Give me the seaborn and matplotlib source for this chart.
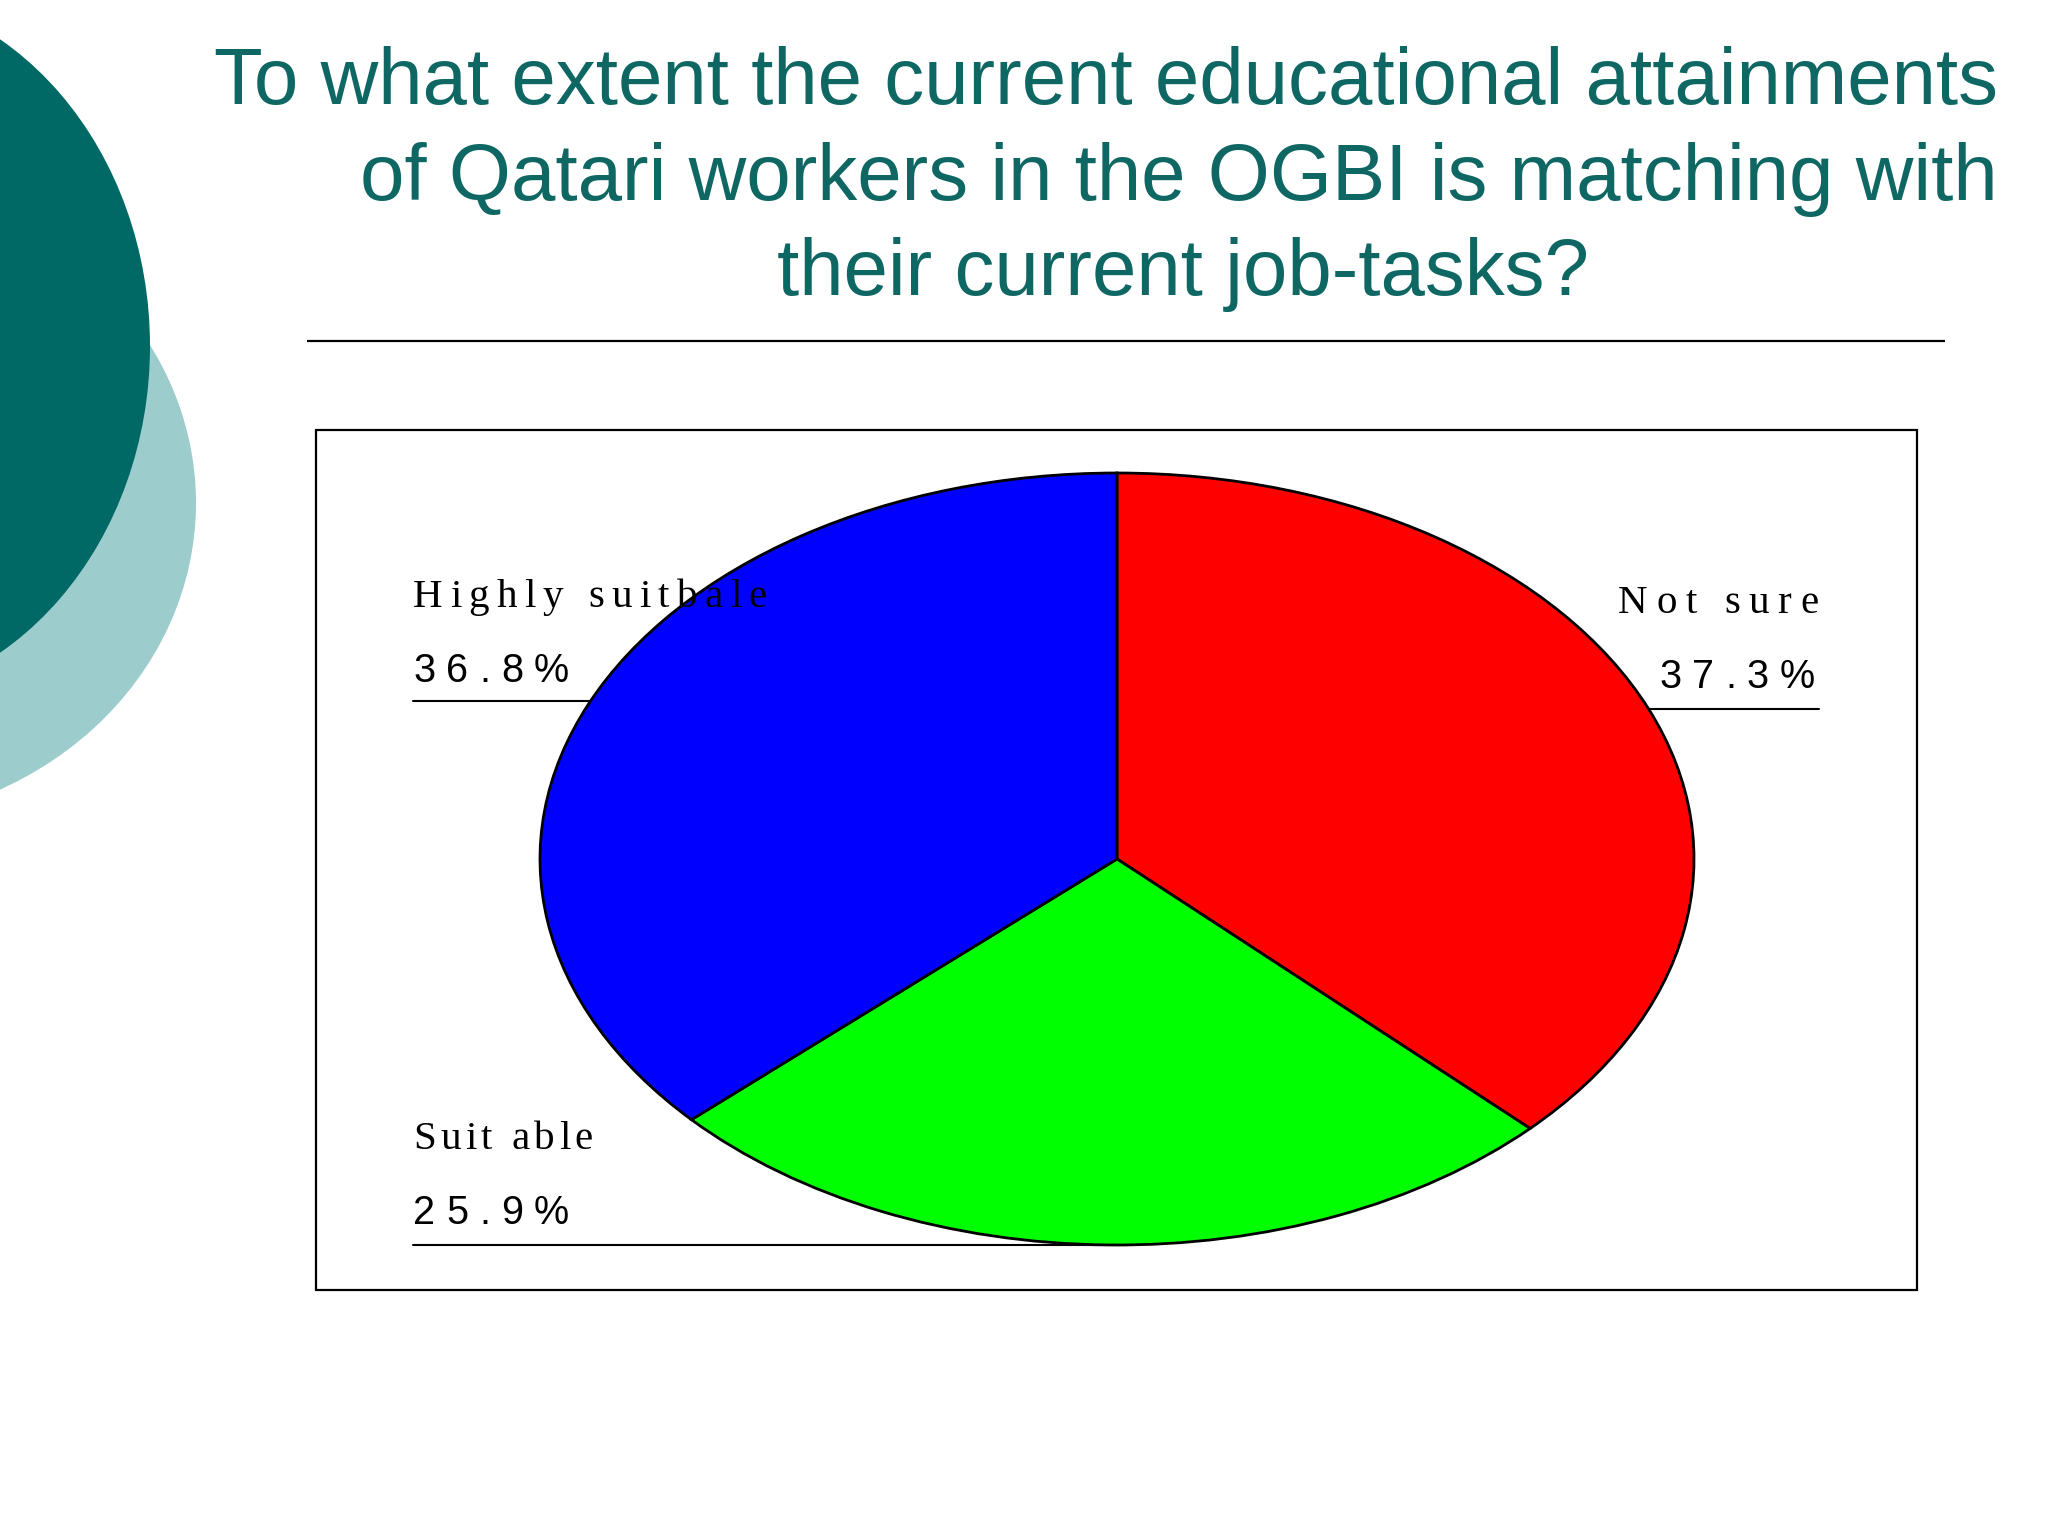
import numpy as np
import pandas as pd
import matplotlib
matplotlib.use("Agg")
import matplotlib.pyplot as plt
import seaborn as sns
from matplotlib.patches import Ellipse, Rectangle
from matplotlib.font_manager import FontProperties

# ---- data ----
categories = ["Not sure", "Suitable", "Highly suitbale"]
shares = [37.3, 25.9, 36.8]
label_texts = ["Not sure", "Suit able", "Highly suitbale"]
pct_texts = ["37.3%", "25.9%", "36.8%"]
slice_colors = ["#ff0000", "#00ff00", "#0000ff"]
title_lines = [
    "To what extent the current educational attainments",
    "of Qatari workers in the OGBI is matching with",
    "their current job-tasks?",
]

sns.set_theme(style="white")
plt.rcParams["font.family"] = ["Liberation Sans", "DejaVu Sans"]

W, H = 2048, 1536
fig = plt.figure(figsize=(W / 100, H / 100), dpi=100, facecolor="white")

# background / decoration axes in pixel coordinates
bg = fig.add_axes([0, 0, 1, 1], zorder=-1)
bg.set_xlim(0, W)
bg.set_ylim(H, 0)
bg.axis("off")

bg.add_patch(Ellipse((-157, 503), 2 * 353, 2 * 320, color="#9dcccd", lw=0))
bg.add_patch(Ellipse((-157, 346), 2 * 307, 2 * 357, color="#006865", lw=0))
bg.plot([307, 1945], [341, 341], color="black", lw=1.6, solid_capstyle="butt")
bg.add_patch(Rectangle((316, 430), 1601, 860, fill=False, ec="black", lw=1.6))

# label underlines (drawn beneath the pie)
bg.plot([413, 820], [701, 701], color="black", lw=1.5)
bg.plot([1500, 1819], [709, 709], color="black", lw=1.5)
bg.plot([413, 1100], [1245, 1245], color="black", lw=1.5)

# ---- pie ----
rx, ry = 577, 386
cx, cy = 1117, 859
m = 1.1
ax = fig.add_axes([(cx - m * rx) / W, (H - cy - m * ry) / H,
                   2 * m * rx / W, 2 * m * ry / H], zorder=1)
df = pd.DataFrame({"category": categories, "share": shares})
ax.pie(df["share"], colors=slice_colors, startangle=90, counterclock=False,
       wedgeprops=dict(edgecolor="black", linewidth=2.0))
ax.set_aspect("auto")
ax.set_xlim(-m, m)
ax.set_ylim(-m, m)
ax.axis("off")
ax.patch.set_visible(False)

# ---- title ----
tcol = "#0f6763"
tfs = 57.5
fig.text(1998, 104, title_lines[0], transform=bg.transData, ha="right",
         va="baseline", color=tcol, fontsize=tfs, family="Liberation Sans",
         zorder=4)
fig.text(1998, 200, title_lines[1], transform=bg.transData, ha="right",
         va="baseline", color=tcol, fontsize=tfs, family="Liberation Sans",
         zorder=4)
fig.text(1183, 295, title_lines[2], transform=bg.transData, ha="center",
         va="baseline", color=tcol, fontsize=tfs, family="Liberation Sans",
         zorder=4)

# ---- letter-spaced labels (real text, placed glyph by glyph) ----
renderer = fig.canvas.get_renderer()


def measure(s, fp):
    w, h, d = renderer.get_text_width_height_descent(s, fp, ismath=False)
    return w


def tracked(s, x0, yb, target, family, size):
    fp = FontProperties(family=family, size=size)
    w0 = measure(s, fp)
    ref = measure("x", fp)
    n = len(s) - 1
    t = (target - w0) / n if n > 0 else 0
    for i, ch in enumerate(s):
        if ch == " ":
            continue
        adv = measure(s[:i] + "x", fp) - ref if i > 0 else 0
        fig.text(x0 + adv + i * t, yb, ch, fontproperties=fp,
                 transform=bg.transData, ha="left", va="baseline",
                 color="black", zorder=5)


serif = "Liberation Serif"
sans = "Liberation Sans"
lfs, pfs = 29.5, 28.5
# Not sure
tracked(label_texts[0], 1618, 613, 200, serif, lfs)
tracked(pct_texts[0], 1659, 688, 156, sans, pfs)
# Suitable
tracked(label_texts[1], 413, 1149, 180, serif, lfs)
tracked(pct_texts[1], 413, 1224, 156, sans, pfs)
# Highly suitbale
tracked(label_texts[2], 413, 607, 354, serif, lfs)
tracked(pct_texts[2], 413, 682, 156, sans, pfs)

fig.savefig("out.png", dpi=100, facecolor="white")
